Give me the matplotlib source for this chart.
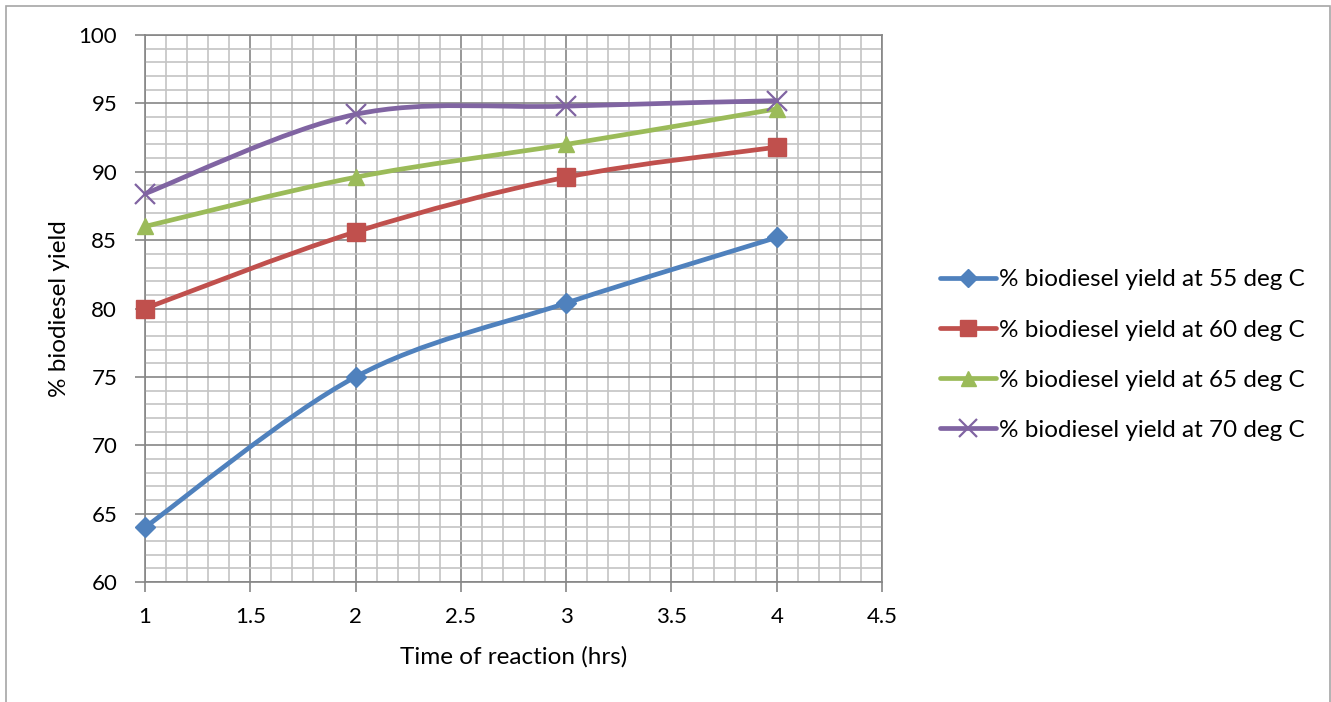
import matplotlib

matplotlib.use("Agg")
import matplotlib.pyplot as plt
from matplotlib.path import Path
from matplotlib.patches import PathPatch, Rectangle
from matplotlib.lines import Line2D
from matplotlib.ticker import MultipleLocator

plt.rcParams["font.family"] = ["Lato", "DejaVu Sans"]

hours = [1, 2, 3, 4]
yield_55 = [64.0, 75.0, 80.4, 85.2]
yield_60 = [80.0, 85.6, 89.6, 91.8]
yield_65 = [86.0, 89.6, 92.0, 94.6]
yield_70 = [88.4, 94.2, 94.8, 95.2]
labels = [
    "% biodiesel yield at 55 deg C",
    "% biodiesel yield at 60 deg C",
    "% biodiesel yield at 65 deg C",
    "% biodiesel yield at 70 deg C",
]
colors = ["#4F81BD", "#C0504D", "#9BBB59", "#8064A2"]
markers = ["D", "s", "^", "x"]
msizes = [10, 13, 12, 14]


def smooth_path(xs, ys):
    # Excel-style smoothed line: Catmull-Rom as cubic Bezier segments
    pts = list(zip(xs, ys))
    verts = [pts[0]]
    codes = [Path.MOVETO]
    n = len(pts)
    for i in range(n - 1):
        p0 = pts[max(i - 1, 0)]
        p1 = pts[i]
        p2 = pts[i + 1]
        p3 = pts[min(i + 2, n - 1)]
        c1 = (p1[0] + (p2[0] - p0[0]) / 6, p1[1] + (p2[1] - p0[1]) / 6)
        c2 = (p2[0] - (p3[0] - p1[0]) / 6, p2[1] - (p3[1] - p1[1]) / 6)
        verts += [c1, c2, p2]
        codes += [Path.CURVE4] * 3
    return Path(verts, codes)


fig = plt.figure(figsize=(13.31, 7.02), dpi=100)
ax = fig.add_axes([0.1089, 0.1709, 0.5538, 0.7792])

series = [yield_55, yield_60, yield_65, yield_70]
handles = []
for vals, c, m, ms, lab in zip(series, colors, markers, msizes, labels):
    ax.add_patch(PathPatch(smooth_path(hours, vals), facecolor="none",
                           edgecolor=c, lw=3.4, zorder=3, capstyle="round"))
    mew = 1.6 if m == "x" else 1.0
    ax.plot(hours, vals, linestyle="none", marker=m, ms=ms, color=c,
            mec=c, mew=mew, zorder=4, clip_on=False)
    handles.append(Line2D([], [], color=c, lw=3.4, marker=m, ms=ms * 0.9,
                          mec=c, mew=mew, solid_capstyle="round"))

ax.set_xlim(1, 4.5)
ax.set_ylim(60, 100)
ax.xaxis.set_major_locator(MultipleLocator(0.5))
ax.xaxis.set_minor_locator(MultipleLocator(0.1))
ax.yaxis.set_major_locator(MultipleLocator(5))
ax.yaxis.set_minor_locator(MultipleLocator(1))
ax.set_xticks([1, 1.5, 2, 2.5, 3, 3.5, 4, 4.5])
ax.set_xticklabels(["1", "1.5", "2", "2.5", "3", "3.5", "4", "4.5"])
ax.grid(True, which="major", color="#868686", lw=1.2)
ax.grid(True, which="minor", color="#C4C4C4", lw=1.2)
ax.set_axisbelow(True)
ax.tick_params(which="major", length=7, width=1.2, color="#868686",
               labelsize=16)
ax.tick_params(axis="x", pad=11)
ax.tick_params(axis="y", pad=13)
ax.tick_params(which="minor", length=0)
for s in ax.spines.values():
    s.set_color("#868686")
    s.set_linewidth(1.2)

ax.set_xlabel("Time of reaction (hrs)", fontsize=17.5, labelpad=14)
ax.set_ylabel("% biodiesel yield", fontsize=17.5, labelpad=6)

fig.legend(handles, labels, loc="center left", bbox_to_anchor=(0.690, 0.494),
           frameon=False, fontsize=17.5, handlelength=2.3, handletextpad=0.1,
           labelspacing=1.2)

fig.patches.append(Rectangle((6 / 1331, -0.05), 1324 / 1331, 1.05 - 6 / 702,
                             transform=fig.transFigure, fill=False,
                             edgecolor="#A6A6A6", lw=1.2))

fig.savefig("out.png", dpi=100)
